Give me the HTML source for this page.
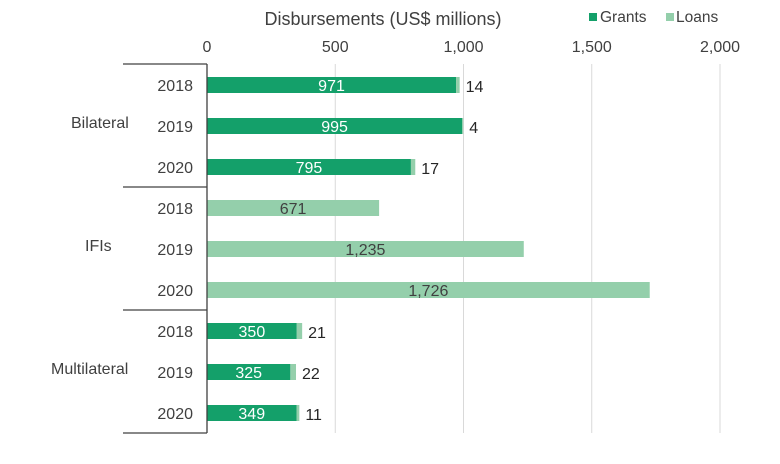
<!DOCTYPE html>
<html><head><meta charset="utf-8"><style>
body{margin:0;background:#fff;}
svg{display:block;font-family:"Liberation Sans",Arial,sans-serif;}
</style></head><body>
<svg id="c" width="780" height="464"></svg>
<script>
const groups=["Bilateral","IFIs","Multilateral"];
const years=["2018","2019","2020"];
const grants=[971,995,795,0,0,0,350,325,349];
const loans=[14,4,17,671,1235,1726,21,22,11];
const ticks=[0,500,1000,1500,2000];
const tickLabels=["0","500","1,000","1,500","2,000"];
const svg=document.getElementById('c');
const NS='http://www.w3.org/2000/svg';
const X0=207,PX=513/2000,Y0=64,ROW=41,BH=16;
const x=v=>X0+v*PX;
const yc=i=>Y0+21+i*ROW;
const GC='#14a06a',LC='#94cfab';
function el(t,a,txt){const e=document.createElementNS(NS,t);for(const k in a)e.setAttribute(k,a[k]);if(txt!==undefined)e.textContent=txt;svg.appendChild(e);return e;}
const fmt=v=>v.toLocaleString('en-US');
ticks.forEach((t,i)=>{
  if(i>0){const g=el('line',{x1:x(t),x2:x(t),y1:Y0,y2:433,stroke:'#d9d9d9','stroke-width':1});
  
  }
  const l=el('text',{x:x(t),y:52,'text-anchor':'middle','font-size':16,fill:'#404040'},tickLabels[i]);
  
  
});
const tt=el('text',{x:383,y:25,'text-anchor':'middle','font-size':18,fill:'#404040'},'Disbursements (US$ millions)');


// legend
const lg1=el('rect',{x:589,y:13,width:8,height:8,fill:GC});


const lt1=el('text',{x:600,y:22,'font-size':15.5,fill:'#404040'},'Grants');


const lg2=el('rect',{x:666,y:13,width:8,height:8,fill:LC});


const lt2=el('text',{x:676,y:22,'font-size':15.5,fill:'#404040'},'Loans');


// bars
grants.forEach((g,i)=>{
  const l=loans[i],cy=yc(i);
  const yl=el('text',{x:193,y:cy+6,'text-anchor':'end','font-size':16,fill:'#404040'},years[i%3]);
  
  
  if(g>0){
    const r=el('rect',{x:x(0),y:cy-BH/2,width:g*PX,height:BH,fill:GC});
    
    
    const t=el('text',{x:x(g/2),y:cy+6,'text-anchor':'middle','font-size':16,fill:'#fff'},fmt(g));
    
    
  }
  const r2=el('rect',{x:x(g),y:cy-BH/2,width:l*PX,height:BH,fill:LC});
  
  
  let t2;
  if(g>0){t2=el('text',{x:x(g+l)+6,y:cy+7,'font-size':16,fill:'#262626'},fmt(l));}
  else{t2=el('text',{x:x(l/2),y:cy+6,'text-anchor':'middle','font-size':16,fill:'#404040'},fmt(l));}
  
  
});
// group separators
const ax=el('line',{x1:X0,x2:X0,y1:Y0,y2:433,stroke:'#404040','stroke-width':1.3});


for(let k=0;k<=3;k++){
  const s=el('line',{x1:123,x2:X0,y1:Y0+k*123,y2:Y0+k*123,stroke:'#404040','stroke-width':1.3});
  
  
}
groups.forEach((g,k)=>{
  const t=el('text',{x:g==='IFIs'?85:(g==='Bilateral'?71:51),y:yc(k*3+1)+2,'font-size':16,fill:'#404040'},g);
  
  
});
</script>
</body></html>
